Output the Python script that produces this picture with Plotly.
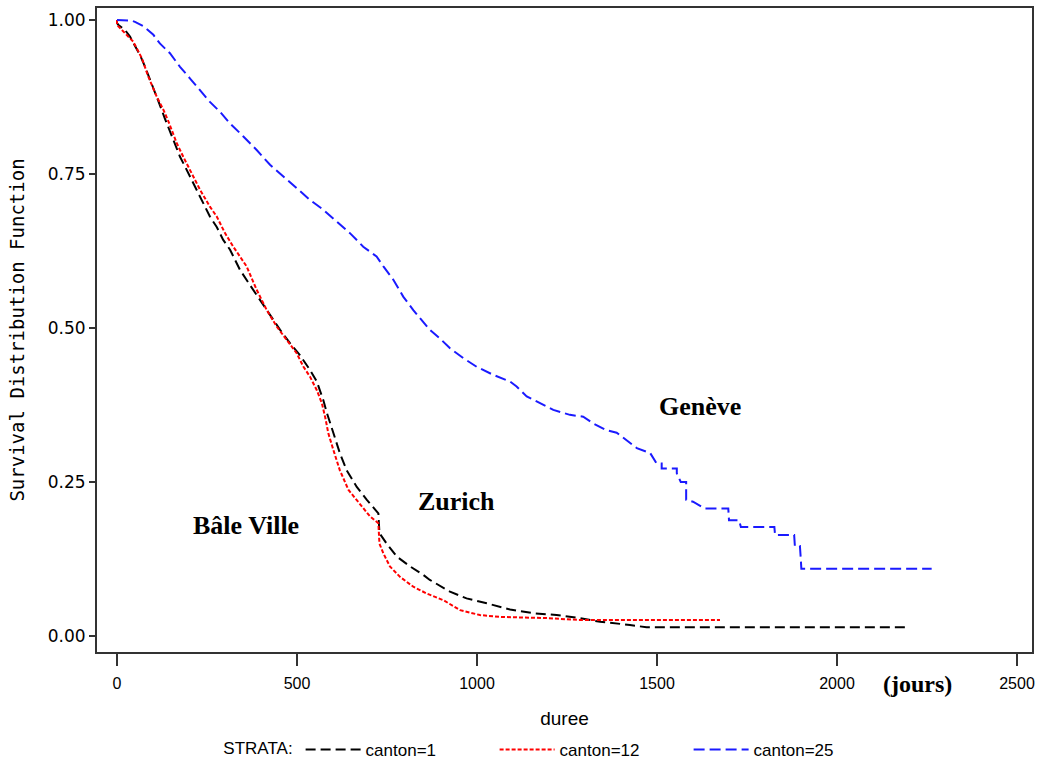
import plotly.graph_objects as go

# Kaplan-Meier survival estimates by canton (time in days).
# Repeated times mark the vertical drops of the step function where the steps are wide.
t_canton1 = [0, 0, 4, 22, 36, 50, 64, 78, 92, 106, 119, 133, 147, 161, 175, 189, 203, 221, 240,
             258, 277, 295, 314, 342, 369, 397, 425, 453, 481, 508, 536, 555, 564, 573, 583,
             601, 619, 638, 666, 694, 726, 729, 749, 777, 814, 851, 869, 925, 971, 1027,
             1092, 1156, 1221, 1286, 1342, 1425, 1471, 2189]
s_canton1 = [1.0, 0.995, 0.992, 0.984, 0.973, 0.959, 0.943, 0.924, 0.903, 0.884, 0.862, 0.840,
             0.819, 0.800, 0.778, 0.762, 0.746, 0.724, 0.702, 0.681, 0.664, 0.643, 0.627,
             0.594, 0.570, 0.545, 0.521, 0.497, 0.475, 0.456, 0.432, 0.413, 0.398, 0.383,
             0.362, 0.329, 0.297, 0.269, 0.242, 0.221, 0.199, 0.167, 0.150, 0.129, 0.113,
             0.099, 0.091, 0.072, 0.061, 0.053, 0.043, 0.037, 0.034, 0.029, 0.023, 0.018,
             0.014, 0.014]

t_canton12 = [0, 0, 3, 20, 45, 69, 87, 110, 129, 143, 166, 184, 207, 231, 258, 277, 300, 323,
              360, 388, 416, 444, 471, 499, 518, 536, 555, 569, 578, 587, 601, 619, 643, 675,
              703, 726, 729, 740, 758, 786, 823, 860, 907, 953, 1008, 1064, 1194, 1286, 1675]
s_canton12 = [1.0, 0.992, 0.990, 0.980, 0.965, 0.938, 0.908, 0.876, 0.854, 0.835, 0.800, 0.778,
              0.751, 0.724, 0.697, 0.681, 0.654, 0.632, 0.600, 0.562, 0.529, 0.502, 0.481,
              0.459, 0.437, 0.421, 0.399, 0.378, 0.356, 0.329, 0.302, 0.269, 0.237, 0.215,
              0.194, 0.183, 0.150, 0.134, 0.113, 0.096, 0.080, 0.069, 0.058, 0.042, 0.034,
              0.031, 0.029, 0.026, 0.026]

t_canton25 = [0, 40, 50, 73, 101, 119, 147, 175, 203, 231, 258, 286, 314, 351, 388, 425, 462,
              499, 536, 573, 610, 647, 684, 721, 740, 768, 795, 823, 869, 897, 925, 962, 999,
              1045, 1092, 1110, 1138, 1175, 1212, 1258, 1295, 1323, 1360, 1388, 1416, 1444,
              1481, 1490, 1499, 1513, 1513, 1555, 1555, 1566, 1581, 1581, 1600, 1633, 1698,
              1700, 1728, 1733, 1826, 1828, 1881, 1883, 1897, 1899, 1901, 2263]
s_canton25 = [1.0, 0.999, 0.997, 0.990, 0.976, 0.962, 0.946, 0.924, 0.905, 0.886, 0.867, 0.851,
              0.832, 0.811, 0.789, 0.765, 0.746, 0.727, 0.708, 0.692, 0.673, 0.654, 0.632,
              0.616, 0.600, 0.578, 0.551, 0.529, 0.497, 0.483, 0.467, 0.451, 0.437, 0.424,
              0.413, 0.405, 0.389, 0.378, 0.367, 0.359, 0.356, 0.345, 0.334, 0.330, 0.318,
              0.305, 0.297, 0.289, 0.280, 0.280, 0.272, 0.272, 0.264, 0.250, 0.250, 0.221,
              0.218, 0.207, 0.207, 0.188, 0.188, 0.177, 0.177, 0.164, 0.164, 0.146, 0.146,
              0.129, 0.109, 0.109]

strata_names = ["canton=1", "canton=12", "canton=25"]
x_ticks = [0, 500, 1000, 1500, 2000, 2500]
y_ticks = [0.0, 0.25, 0.5, 0.75, 1.0]
y_tick_text = ["0.00", "0.25", "0.50", "0.75", "1.00"]

# Labels placed next to each curve: (text, day, survival)
curve_labels = [("Genève", 1619, 0.373), ("Zurich", 944, 0.219), ("Bâle Ville", 358, 0.180)]

serif = "Liberation Serif, Times New Roman, serif"

fig = go.Figure()
fig.add_trace(go.Scatter(x=t_canton1, y=s_canton1, name=strata_names[0], mode="lines",
                         line=dict(color="#000000", width=2, dash="10px,5px")))
fig.add_trace(go.Scatter(x=t_canton12, y=s_canton12, name=strata_names[1], mode="lines",
                         line=dict(color="#ff0000", width=2, dash="4px,2px")))
fig.add_trace(go.Scatter(x=t_canton25, y=s_canton25, name=strata_names[2], mode="lines",
                         line=dict(color="#1a1aff", width=2, dash="11px,5px")))

for text, d, s in curve_labels:
    fig.add_annotation(x=d, y=s, text=f"<b>{text}</b>", showarrow=False,
                       font=dict(family=serif, size=26, color="#000000"))
fig.add_annotation(x=2225, y=-0.05, xref="x", yref="paper", yanchor="middle",
                   text="<b>(jours)</b>", showarrow=False,
                   font=dict(family=serif, size=24, color="#000000"))

fig.update_layout(
    width=1042, height=768,
    margin=dict(l=97, r=10, t=8, b=116, autoexpand=False),
    paper_bgcolor="white", plot_bgcolor="white",
    font=dict(family="Liberation Sans, Arial, sans-serif", color="#000000"),
    showlegend=True,
    legend=dict(orientation="h", x=0.487, xanchor="center", y=-0.152, yanchor="middle",
                title=dict(text="STRATA:", side="left", font=dict(size=17)),
                font=dict(size=17), itemwidth=55, entrywidth=124, entrywidthmode="pixels",
                bgcolor="rgba(0,0,0,0)"),
    xaxis=dict(range=[-55.6, 2541.7], tickvals=x_ticks, ticks="outside", ticklen=12,
               tickwidth=1.5, tickcolor="#333333", ticklabelstandoff=4,
               tickfont=dict(size=16), showgrid=False, zeroline=False,
               showline=True, mirror=True, linecolor="#333333", linewidth=2,
               title=dict(text="duree", font=dict(size=19), standoff=20)),
    yaxis=dict(range=[-0.026, 1.0195], tickvals=y_ticks, ticktext=y_tick_text,
               ticks="outside", ticklen=6, tickwidth=1.5, tickcolor="#333333",
               tickfont=dict(family="DejaVu Sans, sans-serif", size=17),
               showgrid=False, zeroline=False,
               showline=True, mirror=True, linecolor="#333333", linewidth=2,
               title=dict(text="Survival Distribution Function",
                          font=dict(family="DejaVu Sans Mono, monospace", size=19),
                          standoff=18)),
)

fig.write_html("out.html")
